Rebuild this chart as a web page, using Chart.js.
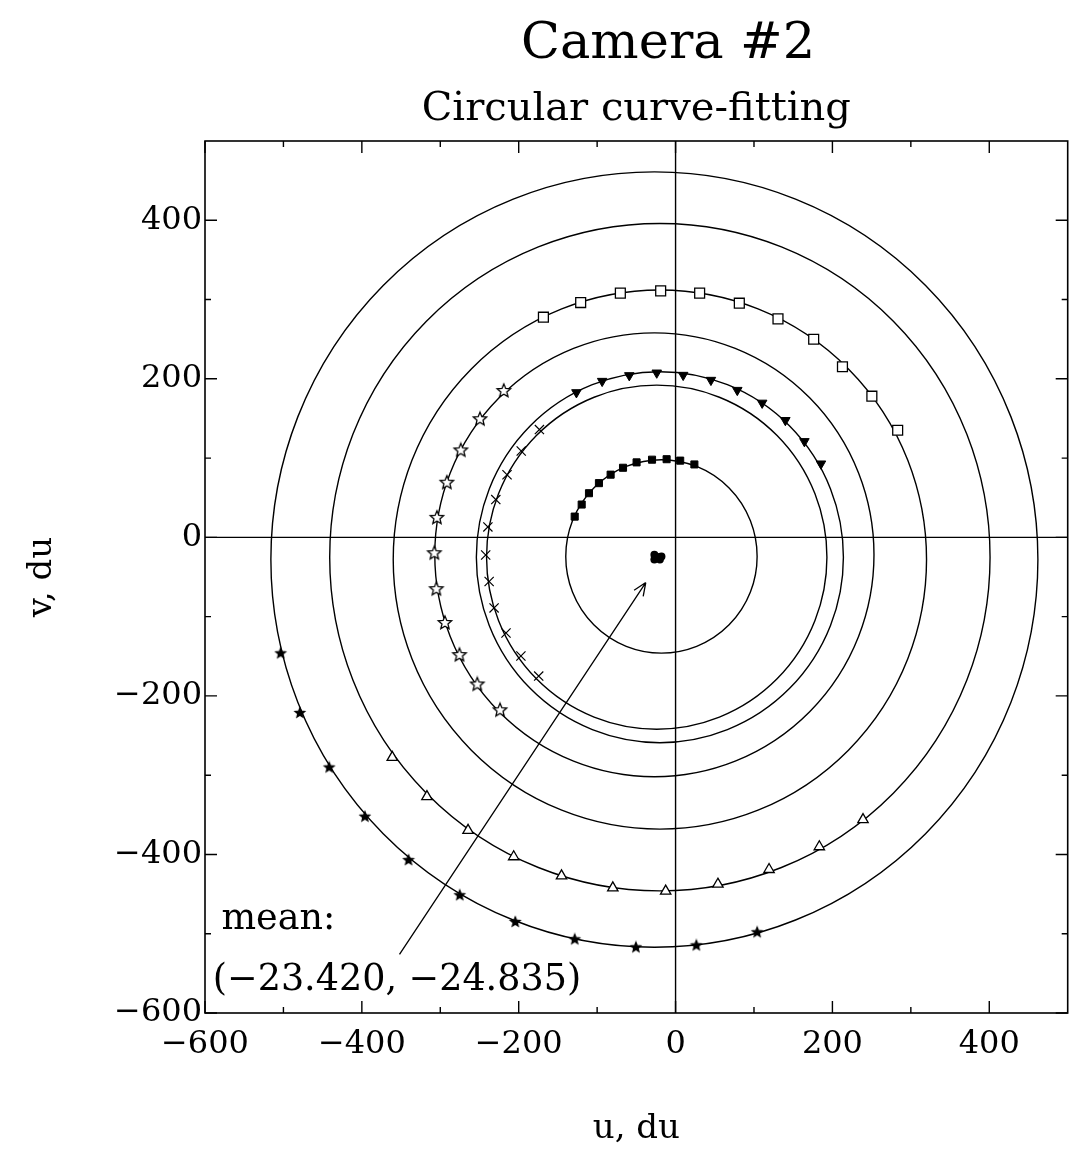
<!DOCTYPE html>
<html>
<head>
<meta charset="utf-8">
<script src="https://cdn.jsdelivr.net/npm/chart.js@4"></script>
<style>
  html, body { margin: 0; padding: 0; background: #fff; }
  canvas { display: block; }
</style>
</head>
<body>
<canvas id="cam" width="1076" height="1164"></canvas>
<script>
// Camera #2: circular curve-fitting (u, v in du)
const xTicks = [-600, -400, -200, 0, 200, 400];
const yTicks = [-600, -400, -200, 0, 200, 400];
const minorTicks = [-500, -300, -100, 100, 300];

// filled stars (outer circle)
const starU = [-503.5, -479.1, -441.6, -396.1, -340.5, -275.2, -204.4, -128.6, -50.6, 26.5, 104];
const starV = [-146.3, -221.5, -290.3, -352.3, -407.1, -451.4, -485.2, -507.1, -517.2, -514.7, -498.2];

// open triangles
const triU = [-361.2, -317, -264.6, -206.4, -145.4, -80, -12.6, 54, 119.2, 183.3, 239];
const triV = [-277.6, -327, -369.6, -402.9, -427, -442.2, -446.3, -437.5, -419, -390.3, -356];

// open squares
const sqU = [-168.5, -121, -70.4, -19, 30.7, 81.3, 130.6, 176.1, 212.8, 250.3, 283.2];
const sqV = [277.7, 296.2, 308.1, 311, 308.1, 295.4, 275.6, 249.9, 215.2, 178.1, 135.1];

// open stars
const ostarU = [-219, -249.4, -273.9, -291.6, -304.3, -307.6, -305, -294.1, -275.5, -252.8, -223.8];
const ostarV = [184.7, 149, 109.7, 68.9, 24.6, -20, -65.3, -108, -148.5, -185.6, -218.1];

// filled down-triangles
const downU = [-126.4, -93.6, -59, -24, 9.7, 45.1, 78.7, 110.4, 140, 164.3, 185.4];
const downV = [182.8, 197.1, 204.3, 207.6, 204.7, 198.4, 185.7, 169.6, 147.7, 121.1, 92.9];

// crosses
const crossU = [-173.6, -196.8, -214.9, -229.2, -239.3, -242.1, -237.7, -231.4, -216.2, -197.2, -174.5];
const crossV = [136, 108.9, 79, 47.7, 13.2, -22.2, -55.7, -89, -120.6, -149.7, -175];

// filled squares
const fsqU = [-128.6, -119.7, -110.4, -97.7, -82.8, -67, -49.7, -30, -11.4, 5.9, 24];
const fsqV = [26.2, 41.4, 55.7, 68.4, 79.1, 87.8, 94.6, 98, 98.6, 96.8, 92];

// fitted circles: centres and radii
const fitU = [-27, -20, -20, -27, -20, -24, -18];
const fitV = [-28, -25, -28, -22, -25, -25, -24];
const fitR = [489, 421, 340, 280, 234, 217, 122];

const titleText = "Camera #2";
const meanText = ["mean:", "(\u221223.420, \u221224.835)"];
const arrowFrom = [-352, -526];
const arrowTo = [-38, -57];

Chart.defaults.font.family = "'DejaVu Serif', serif";
Chart.defaults.color = "#000";

function pts(us, vs) {
  return us.map((u, i) => ({ x: u, y: vs[i] }));
}

function starSprite(R, filled) {
  const s = Math.ceil(R * 2 + 4);
  const c = document.createElement("canvas");
  c.width = c.height = s;
  const g = c.getContext("2d");
  g.translate(s / 2, s / 2);
  g.beginPath();
  for (let i = 0; i < 10; i++) {
    const r = i % 2 ? R * 0.45 : R;
    const a = -Math.PI / 2 + i * Math.PI / 5;
    g.lineTo(r * Math.cos(a), r * Math.sin(a));
  }
  g.closePath();
  g.fillStyle = filled ? "#000" : "#fff";
  g.fill();
  g.lineWidth = 1.3;
  g.strokeStyle = "#000";
  g.stroke();
  return c;
}

// frame, zero lines, inward ticks and the fitted circles
const framePlugin = {
  id: "frame",
  beforeDatasetsDraw(chart) {
    const { ctx, chartArea: a, scales: { x, y } } = chart;
    ctx.save();
    ctx.strokeStyle = "#000";
    ctx.lineWidth = 1.6;
    ctx.strokeRect(a.left, a.top, a.width, a.height);

    ctx.lineWidth = 1.4;
    ctx.beginPath();
    const x0 = x.getPixelForValue(0), y0 = y.getPixelForValue(0);
    ctx.moveTo(x0, a.top); ctx.lineTo(x0, a.bottom);
    ctx.moveTo(a.left, y0); ctx.lineTo(a.right, y0);
    ctx.stroke();

    const tick = (vals, len) => {
      vals.forEach(v => {
        const px = x.getPixelForValue(v), py = y.getPixelForValue(v);
        ctx.moveTo(px, a.bottom); ctx.lineTo(px, a.bottom - len);
        ctx.moveTo(px, a.top); ctx.lineTo(px, a.top + len);
        ctx.moveTo(a.left, py); ctx.lineTo(a.left + len, py);
        ctx.moveTo(a.right, py); ctx.lineTo(a.right - len, py);
      });
    };
    ctx.beginPath();
    tick(xTicks, 12);
    tick(minorTicks, 6);
    ctx.stroke();

    ctx.beginPath();
    ctx.rect(a.left, a.top, a.width, a.height);
    ctx.clip();
    ctx.lineWidth = 1.4;
    fitR.forEach((r, i) => {
      const cx = x.getPixelForValue(fitU[i]), cy = y.getPixelForValue(fitV[i]);
      const rx = x.getPixelForValue(fitU[i] + r) - cx;
      const ry = cy - y.getPixelForValue(fitV[i] + r);
      ctx.beginPath();
      ctx.ellipse(cx, cy, rx, ry, 0, 0, Math.PI * 2);
      ctx.stroke();
    });
    ctx.restore();
  },
  afterDatasetsDraw(chart) {
    const { ctx, scales: { x, y } } = chart;
    ctx.save();
    // arrow to the mean centre
    const x1 = x.getPixelForValue(arrowFrom[0]), y1 = y.getPixelForValue(arrowFrom[1]);
    const x2 = x.getPixelForValue(arrowTo[0]), y2 = y.getPixelForValue(arrowTo[1]);
    const ang = Math.atan2(y2 - y1, x2 - x1);
    ctx.strokeStyle = "#000";
    ctx.lineWidth = 1.3;
    ctx.beginPath();
    ctx.moveTo(x1, y1); ctx.lineTo(x2, y2);
    [0.4, -0.4].forEach(d => {
      ctx.moveTo(x2, y2);
      ctx.lineTo(x2 - 14 * Math.cos(ang + d), y2 - 14 * Math.sin(ang + d));
    });
    ctx.stroke();

    ctx.fillStyle = "#000";
    ctx.font = "36.5px 'DejaVu Serif'";
    ctx.textAlign = "left";
    ctx.textBaseline = "alphabetic";
    ctx.fillText(meanText[0], x.getPixelForValue(-579), y.getPixelForValue(-494));
    ctx.fillText(meanText[1], x.getPixelForValue(-590), y.getPixelForValue(-571));

    // main heading sits a little right of the plot centre
    ctx.font = "51px 'DejaVu Serif'";
    ctx.textAlign = "center";
    ctx.textBaseline = "middle";
    ctx.fillText(titleText, 668, 45);
    ctx.restore();
  }
};

const minusFmt = v => String(v).replace("-", "\u2212");

new Chart(document.getElementById("cam"), {
  type: "scatter",
  data: {
    datasets: [
      { label: "filled stars", data: pts(starU, starV), pointStyle: starSprite(5, true), pointRadius: 5 },
      { label: "open triangles", data: pts(triU, triV), pointStyle: "triangle", pointRadius: 6,
        backgroundColor: "#fff", borderColor: "#000", borderWidth: 1.3 },
      { label: "open squares", data: pts(sqU, sqV), pointStyle: "rect", pointRadius: 7,
        backgroundColor: "#fff", borderColor: "#000", borderWidth: 1.3 },
      { label: "open stars", data: pts(ostarU, ostarV), pointStyle: starSprite(7, false), pointRadius: 7 },
      { label: "filled triangles", data: pts(downU, downV), pointStyle: "triangle", rotation: 180,
        pointRadius: 5.5, backgroundColor: "#000", borderColor: "#000", borderWidth: 1 },
      { label: "crosses", data: pts(crossU, crossV), pointStyle: "crossRot", pointRadius: 6.5,
        borderColor: "#000", borderWidth: 1.2 },
      { label: "filled squares", data: pts(fsqU, fsqV), pointStyle: "rect", pointRadius: 5,
        backgroundColor: "#000", borderColor: "#000", borderWidth: 1 },
      { label: "centres", data: pts(fitU, fitV), pointStyle: "circle", pointRadius: 4,
        backgroundColor: "#000", borderColor: "#000", borderWidth: 0 }
    ]
  },
  options: {
    responsive: false,
    animation: false,
    events: [],
    layout: { padding: { left: 0, right: 1, top: 74.2, bottom: 0 } },
    plugins: {
      legend: { display: false },
      tooltip: { enabled: false },
      title: { display: false },
      subtitle: {
        display: true, fullSize: false, text: "Circular curve-fitting", color: "#000",
        font: { size: 40, weight: "normal" }, padding: { top: 11.8, bottom: 7 }
      }
    },
    scales: {
      x: {
        type: "linear", position: "bottom", min: -600, max: 500,
        afterBuildTicks: s => { s.ticks = xTicks.map(v => ({ value: v })); },
        afterFit: s => { s.height = 151; },
        grid: { display: false, drawTicks: false },
        border: { display: false },
        ticks: { autoSkip: false, maxRotation: 0, padding: 12, font: { size: 32 }, callback: minusFmt },
        title: { display: true, text: "u, du", font: { size: 34 }, padding: { top: 0, bottom: 14 } }
      },
      y: {
        type: "linear", position: "left", min: -600, max: 500,
        afterBuildTicks: s => { s.ticks = yTicks.map(v => ({ value: v })); },
        afterFit: s => { s.width = 205; },
        grid: { display: false, drawTicks: false },
        border: { display: false },
        ticks: { autoSkip: false, padding: 3, font: { size: 32 }, callback: minusFmt },
        title: { display: true, text: "v, du", font: { size: 34 }, padding: { top: 22, bottom: 0 } }
      }
    }
  },
  plugins: [framePlugin]
});
</script>
</body>
</html>
